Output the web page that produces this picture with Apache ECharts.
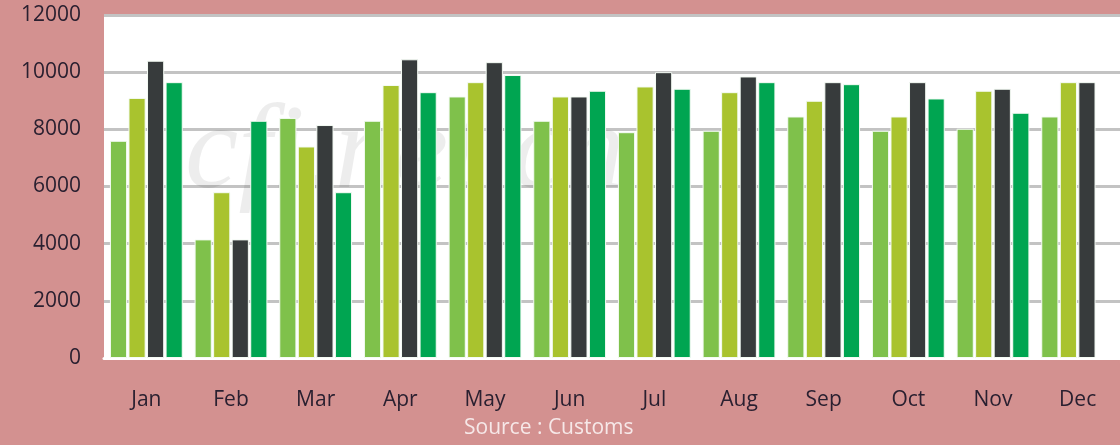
<!DOCTYPE html>
<html>
<head>
    <meta charset="utf-8">
    <title>Monthly chart</title>
    <script src="https://cdn.jsdelivr.net/npm/echarts@6/dist/echarts.min.js"></script>
    <style>
        html, body { margin: 0; padding: 0; background: #d39190; }
        #chart1 { width: 1120px; height: 445px; }
    </style>
</head>
<body>
<div id="chart1"></div>
<script type="text/javascript">
    // 数据
    var months = ['Jan', 'Feb', 'Mar', 'Apr', 'May', 'Jun', 'Jul', 'Aug', 'Sep', 'Oct', 'Nov', 'Dec'];
    var yTicks = [0, 2000, 4000, 6000, 8000, 10000, 12000];
    var series1 = [7600, 4150, 8400, 8300, 9150, 8300, 7900, 7950, 8450, 7950, 8020, 8450];
    var series2 = [9100, 5800, 7400, 9550, 9650, 9150, 9500, 9300, 9000, 8450, 9350, 9650];
    var series3 = [10400, 4150, 8150, 10450, 10350, 9150, 10000, 9850, 9650, 9650, 9420, 9650];
    var series4 = [9650, 8300, 5800, 9300, 9900, 9350, 9420, 9650, 9580, 9080, 8580, null];
    var colors = ['#7fc14b', '#a9c32e', '#373b3c', '#00a551'];

    var myChart1 = echarts.init(document.getElementById('chart1'));

    function bar(data, i) {
        return {
            type: 'bar',
            data: data,
            barGap: '8%',
            barCategoryGap: '14%',
            itemStyle: { color: colors[i], borderColor: '#f4fbf4', borderWidth: 1 },
            z: 3
        };
    }

    var option = {
        backgroundColor: '#d39190',
        animation: false,
        grid: {
            left: 104, right: 0, top: 15, bottom: 87,
            show: true, backgroundColor: '#ffffff', borderWidth: 0
        },
        graphic: [{
            type: 'text',
            left: 185, top: 95, z: 1,
            style: {
                text: 'cfi.net.cn',
                font: 'italic 120px "Liberation Serif"',
                fill: 'rgba(0,0,0,0.07)'
            }
        }, {
            type: 'text',
            left: 464, top: 418,
            style: {
                text: 'Source : Customs',
                font: '21px "Open Sans"',
                fill: '#f6e8e8'
            }
        }],
        xAxis: {
            type: 'category',
            data: months,
            axisLine: { lineStyle: { color: '#ffffff', width: 3 } },
            axisTick: { alignWithLabel: true, length: 6, lineStyle: { color: '#ffffff', width: 2 } },
            axisLabel: { color: '#2a2030', fontSize: 21, fontFamily: 'Open Sans', margin: 32 }
        },
        yAxis: {
            type: 'value',
            min: yTicks[0], max: yTicks[yTicks.length - 1], interval: 2000,
            axisLine: { show: false },
            axisTick: { show: false },
            axisLabel: {
                color: '#2a2030', fontSize: 21, fontFamily: 'Open Sans', margin: 23,
                padding: [8, 0, 0, 0],
                formatter: function (v) { return String(v); }
            },
            splitLine: { lineStyle: { color: '#c3c3c3', width: 3 } }
        },
        series: [bar(series1, 0), bar(series2, 1), bar(series3, 2), bar(series4, 3)]
    };
    myChart1.setOption(option);
</script>
</body>
</html>
